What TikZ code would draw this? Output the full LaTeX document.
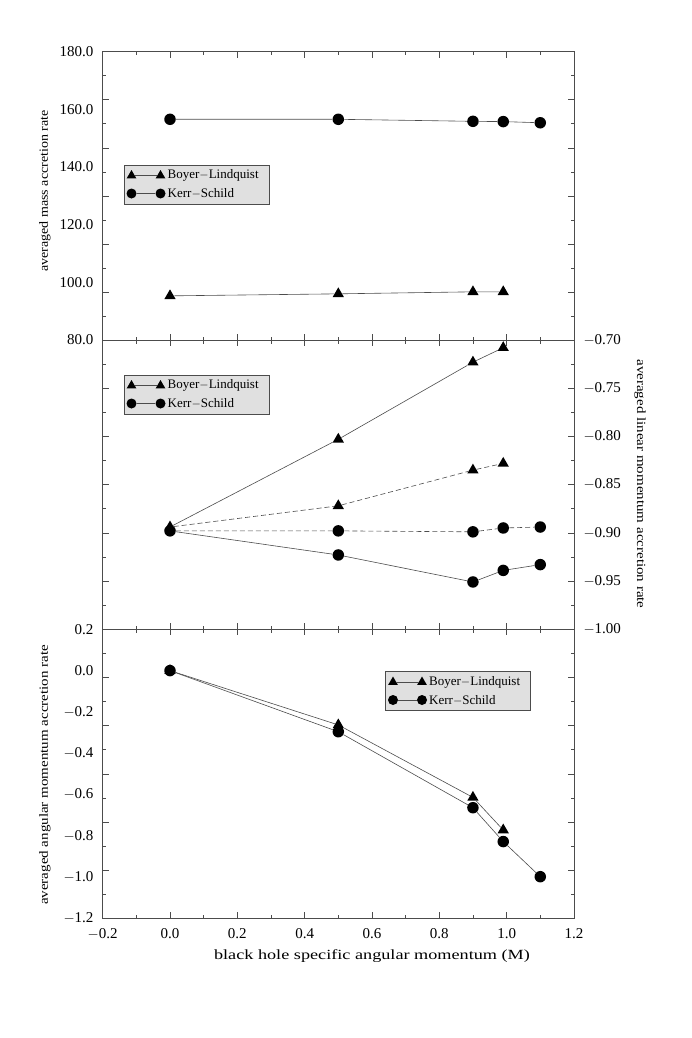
\documentclass[tikz,border=0pt]{standalone}
\usepackage{fontspec}
\setmainfont{Liberation Serif}
\usetikzlibrary{shapes.geometric}
\begin{document}
\begin{tikzpicture}[x=1pt,y=1pt,
  tri/.style={regular polygon,regular polygon sides=3,fill=black,inner sep=0pt,minimum size=13pt},
  dot/.style={circle,fill=black,inner sep=0pt,minimum size=11.5pt},
  ln/.style={draw=black!70,line width=0.6pt},
  dln/.style={ln,dash pattern=on 5pt off 3pt},
  frame/.style={draw=black!70,line width=0.7pt},
  tk/.style={draw=black!70,line width=0.6pt},
  lab/.style={font=\fontsize{15}{15}\selectfont},
  axlab/.style={font=\fontsize{14}{14}\selectfont},
  yaxlab/.style={font=\fontsize{12.5}{13}\selectfont},
  legbox/.style={draw=black!70,fill=black!12,minimum width=145pt,minimum height=39pt,inner sep=0pt},
  legtxt/.style={font=\fontsize{13}{13}\selectfont,anchor=west,inner sep=0pt}]
\useasboundingbox (0,0) rectangle (692,-1038);
% frames
\draw[frame] (102.7,-51.7) rectangle (574.3,-918.3);
\draw[frame] (102.7,-340) -- (574.3,-340);
\draw[frame] (102.7,-629.3) -- (574.3,-629.3);
% x ticks on every panel border
\foreach \i in {0,...,14}{
  \pgfmathsetmacro\xx{102.7+\i*33.66}
  \pgfmathsetmacro\len{ifthenelse(mod(\i,2)==0,6,3.5)}
  \foreach \yy in {-51.7,-629.3}{\draw[tk] (\xx,\yy) -- ++(0,-\len);}
  \foreach \yy in {-340,-918.3}{\draw[tk] (\xx,\yy) -- ++(0,\len);}
  \draw[tk] (\xx,-340) -- ++(0,-\len);
  \draw[tk] (\xx,-629.3) -- ++(0,\len);
}
% y ticks
\foreach \top/\bot in {-51.7/-340,-340/-629.3,-629.3/-918.3}{
  \foreach \j in {0,...,12}{
    \pgfmathsetmacro\yy{\top+(\bot-\top)*\j/12}
    \pgfmathsetmacro\len{ifthenelse(mod(\j,2)==0,6,3.5)}
    \draw[tk] (102.7,\yy) -- ++(\len,0);
    \draw[tk] (574.3,\yy) -- ++(-\len,0);
  }
}
% top panel labels
\foreach \v [count=\k from 0] in {180.0,160.0,140.0,120.0,100.0,80.0}{
  \node[lab,anchor=east] (tl\k) at (97,-51.7-\k*57.66) {\v};}
\node[yaxlab,rotate=90] (tyl) at (45,-191) {\scalebox{1.12}[1]{averaged mass accretion rate}};
% middle panel labels (right)
\foreach \v [count=\k from 0] in {$-$0.70,$-$0.75,$-$0.80,$-$0.85,$-$0.90,$-$0.95,$-$1.00}{
  \node[lab,anchor=west] (ml\k) at (580,-340-\k*48.2) {\v};}
\node[yaxlab,rotate=-90] (myl) at (640,-484) {\scalebox{1.2}[1]{averaged linear momentum accretion rate}};
% bottom panel labels
\foreach \v [count=\k from 0] in {0.2,0.0,$-$0.2,$-$0.4,$-$0.6,$-$0.8,$-$1.0,$-$1.2}{
  \node[lab,anchor=east] (bl\k) at (97,-629.3-\k*41.3) {\v};}
\node[yaxlab,rotate=90] (byl) at (45,-775) {\scalebox{1.2}[1]{averaged angular momentum accretion rate}};
\foreach \v [count=\k from 0] in {$-$0.2,0.0,0.2,0.4,0.6,0.8,1.0,1.2}{
  \node[lab,anchor=north] (xl\k) at (102.7+\k*67.32,-925) {\v};}
\node[axlab] (xal) at (372,-956) {\scalebox{1.3}[1]{black hole specific angular momentum (M)}};
% ---- top panel data
\begin{scope}[x=336.6pt,y=2.885pt,shift={(170pt,-570.8pt)}]
\node[tri] (ta1) at (0,95.3) {}; \node[tri] (ta2) at (0.5,96.0) {};
\node[tri] (ta3) at (0.9,96.7) {}; \node[tri] (ta4) at (0.99,96.7) {};
\node[dot] (tb1) at (0,156.5) {}; \node[dot] (tb2) at (0.5,156.5) {};
\node[dot] (tb3) at (0.9,155.8) {}; \node[dot] (tb4) at (0.99,155.7) {};
\node[dot] (tb5) at (1.1,155.3) {};
\end{scope}
\draw[ln] (ta1)--(ta2)--(ta3)--(ta4);
\draw[ln] (tb1)--(tb2)--(tb3)--(tb4)--(tb5);
% ---- middle panel data
\begin{scope}[x=336.6pt,y=964pt,shift={(170pt,334.8pt)}]
\node[tri] (ma1) at (0,-0.894) {}; \node[tri] (ma2) at (0.5,-0.803) {};
\node[tri] (ma3) at (0.9,-0.723) {}; \node[tri] (ma4) at (0.99,-0.708) {};
\node[tri] (mc2) at (0.5,-0.872) {}; \node[tri] (mc3) at (0.9,-0.835) {};
\node[tri] (mc4) at (0.99,-0.828) {};
\node[dot] (mb1) at (0,-0.898) {}; \node[dot] (mb2) at (0.5,-0.898) {};
\node[dot] (mb3) at (0.9,-0.899) {}; \node[dot] (mb4) at (0.99,-0.895) {};
\node[dot] (mb5) at (1.1,-0.894) {};
\node[dot] (md2) at (0.5,-0.923) {}; \node[dot] (md3) at (0.9,-0.951) {};
\node[dot] (md4) at (0.99,-0.939) {}; \node[dot] (md5) at (1.1,-0.933) {};
\end{scope}
\draw[ln] (ma1)--(ma2)--(ma3)--(ma4);
\draw[dln] (ma1)--(mc2)--(mc3)--(mc4);
\draw[dln] (mb1)--(mb2)--(mb3)--(mb4)--(mb5);
\draw[ln] (mb1)--(md2)--(md3)--(md4)--(md5);
% ---- bottom panel data
\begin{scope}[x=336.6pt,y=206.5pt,shift={(170pt,-670.6pt)}]
\node[tri] (ba1) at (0,0) {}; \node[tri] (ba2) at (0.5,-0.263) {};
\node[tri] (ba3) at (0.9,-0.614) {}; \node[tri] (ba4) at (0.99,-0.772) {};
\node[dot] (bb1) at (0,0) {}; \node[dot] (bb2) at (0.5,-0.296) {};
\node[dot] (bb3) at (0.9,-0.664) {}; \node[dot] (bb4) at (0.99,-0.828) {};
\node[dot] (bb5) at (1.1,-0.998) {};
\end{scope}
\draw[ln] (ba1)--(ba2)--(ba3)--(ba4);
\draw[ln] (bb1)--(bb2)--(bb3)--(bb4)--(bb5);
% ---- legends
\foreach \n/\lx/\ly in {L1/123.5/-164.5,L2/123.5/-374.5,L3/385/-671}{
  \node[legbox,anchor=north west] (\n) at (\lx,\ly) {};
  \node[tri,minimum size=11pt] (\n a1) at ([xshift=8pt,yshift=-11pt]\n.north west) {};
  \node[tri,minimum size=11pt] (\n a2) at ([xshift=37pt,yshift=-11pt]\n.north west) {};
  \draw[ln] (\n a1)--(\n a2);
  \node[dot,minimum size=10pt] (\n b1) at ([xshift=8pt,yshift=-29pt]\n.north west) {};
  \node[dot,minimum size=10pt] (\n b2) at ([xshift=37pt,yshift=-29pt]\n.north west) {};
  \draw[ln] (\n b1)--(\n b2);
  \node[legtxt] (\n t1) at ([xshift=44pt,yshift=-11pt]\n.north west) {Boyer$-$Lindquist};
  \node[legtxt] (\n t2) at ([xshift=44pt,yshift=-29pt]\n.north west) {Kerr$-$Schild};
}
\end{tikzpicture}
\end{document}
